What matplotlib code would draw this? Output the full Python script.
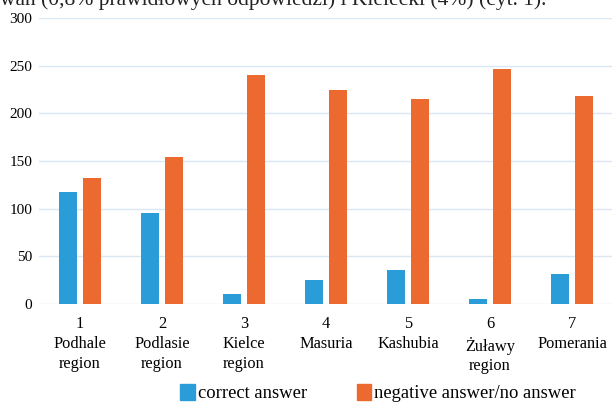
import matplotlib
matplotlib.use("Agg")
import matplotlib.pyplot as plt
import numpy as np
from matplotlib.patches import Patch

categories = ["1\nPodhale\nregion", "2\nPodlasie\nregion", "3\nKielce\nregion",
              "4\nMasuria", "5\nKashubia", "6\nŻuławy\nregion", "7\nPomerania"]
correct = [117, 95, 10, 25, 36, 5, 31]
negative = [132, 154, 240, 225, 215, 246, 218]
yticks = [0, 50, 100, 150, 200, 250, 300]
series_labels = ["correct answer", "negative answer/no answer"]

BLUE = "#2a9dd8"
ORANGE = "#ec6a2f"
SERIF = ["Liberation Serif", "DejaVu Serif"]

fig = plt.figure(figsize=(6.12, 4.03), dpi=100)
ax = fig.add_axes([39/612, 1 - 304/403, 574/612, 286/403])

x = np.arange(len(categories))
w = 0.22
off = 0.146
ax.bar(x - off, correct, w, color=BLUE, zorder=3)
ax.bar(x + off, negative, w, color=ORANGE, zorder=3)

ax.set_xlim(-0.5, len(categories) - 0.5)
ax.set_ylim(0, 300)
ax.set_yticks(yticks)
ax.set_yticklabels([str(t) for t in yticks], fontfamily=SERIF, fontsize=11)
ax.set_xticks(x)
ax.set_xticklabels(categories, fontfamily=SERIF, fontsize=11.8, linespacing=1.3)
ax.tick_params(length=0, pad=5)
ax.tick_params(axis="x", pad=9)
ax.grid(axis="y", color="#dbe7f2", linewidth=1.0, zorder=0)
for s in ax.spines.values():
    s.set_visible(False)

handles = [Patch(color=BLUE), Patch(color=ORANGE)]
fig.legend(handles, series_labels, loc="lower center", bbox_to_anchor=(0.618, -0.031),
           ncol=2, frameon=False, prop={"family": SERIF, "size": 13.4},
           borderpad=0.2, handlelength=0.78, handleheight=0.9, handletextpad=0.17,
           columnspacing=2.65)

fig.text(0.0, 1 - 5/403, "wań (0,8% prawidłowych odpowiedzi) i Kielecki (4%) (cyt. 1).",
         fontfamily=SERIF, fontsize=15.5, va="baseline", ha="left", color="#222222")

fig.savefig("out.png", dpi=100)
